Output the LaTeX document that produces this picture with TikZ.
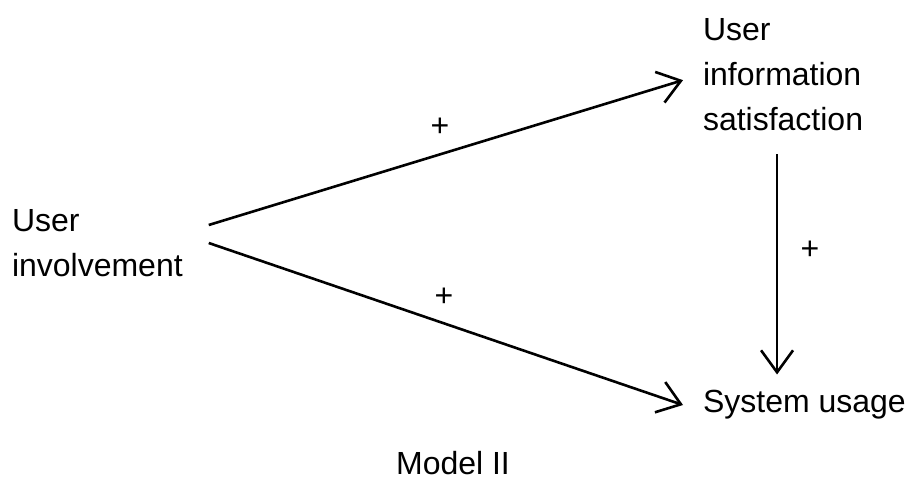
\documentclass[tikz,border=0pt]{standalone}
\usepackage{fontspec}
\setmainfont{Liberation Sans}
\usetikzlibrary{arrows.meta}

\begin{document}
\begin{tikzpicture}[
    x=0.5pt, y=-0.5pt,
    concept/.style={
        align=left,
        inner sep=0pt,
        font=\fontsize{16}{22.5}\selectfont
    },
    sign/.style={
        font=\fontsize{16}{18}\selectfont
    },
    arrow/.style={-{Straight Barb[length=11pt,width=16pt,line width=1.3pt]}, line width=1.3pt}
]

\useasboundingbox (0,0) rectangle (913,486);

% Concept nodes
\node[concept, anchor=west, outer xsep=13pt] (inv) at (-14,243) {
User\\
involvement
};

\node[concept, anchor=north west, outer xsep=10pt, outer ysep=12pt] (uis) at (683,-6) {
User\\
information\\
satisfaction
};

\node[concept, anchor=west, outer xsep=10pt, outer ysep=8pt] (sys) at (683,405) {
System usage
};

% Caption
\node[concept] (cap) at (453,463) {Model II};

% Signs
\node[sign] (p1) at (440,127) {+};
\node[sign] (p2) at (444,297) {+};
\node[sign] (p3) at (810,250) {+};

% Arrows
\draw[arrow] ([yshift=9pt]inv.east) -- ([yshift=-3pt]uis.west);
\draw[arrow] (inv.east) -- (sys.west);
\draw[arrow] ([xshift=-3pt]uis.south) -- ([xshift=-3pt]uis.south |- sys.north);

\end{tikzpicture}
\end{document}
